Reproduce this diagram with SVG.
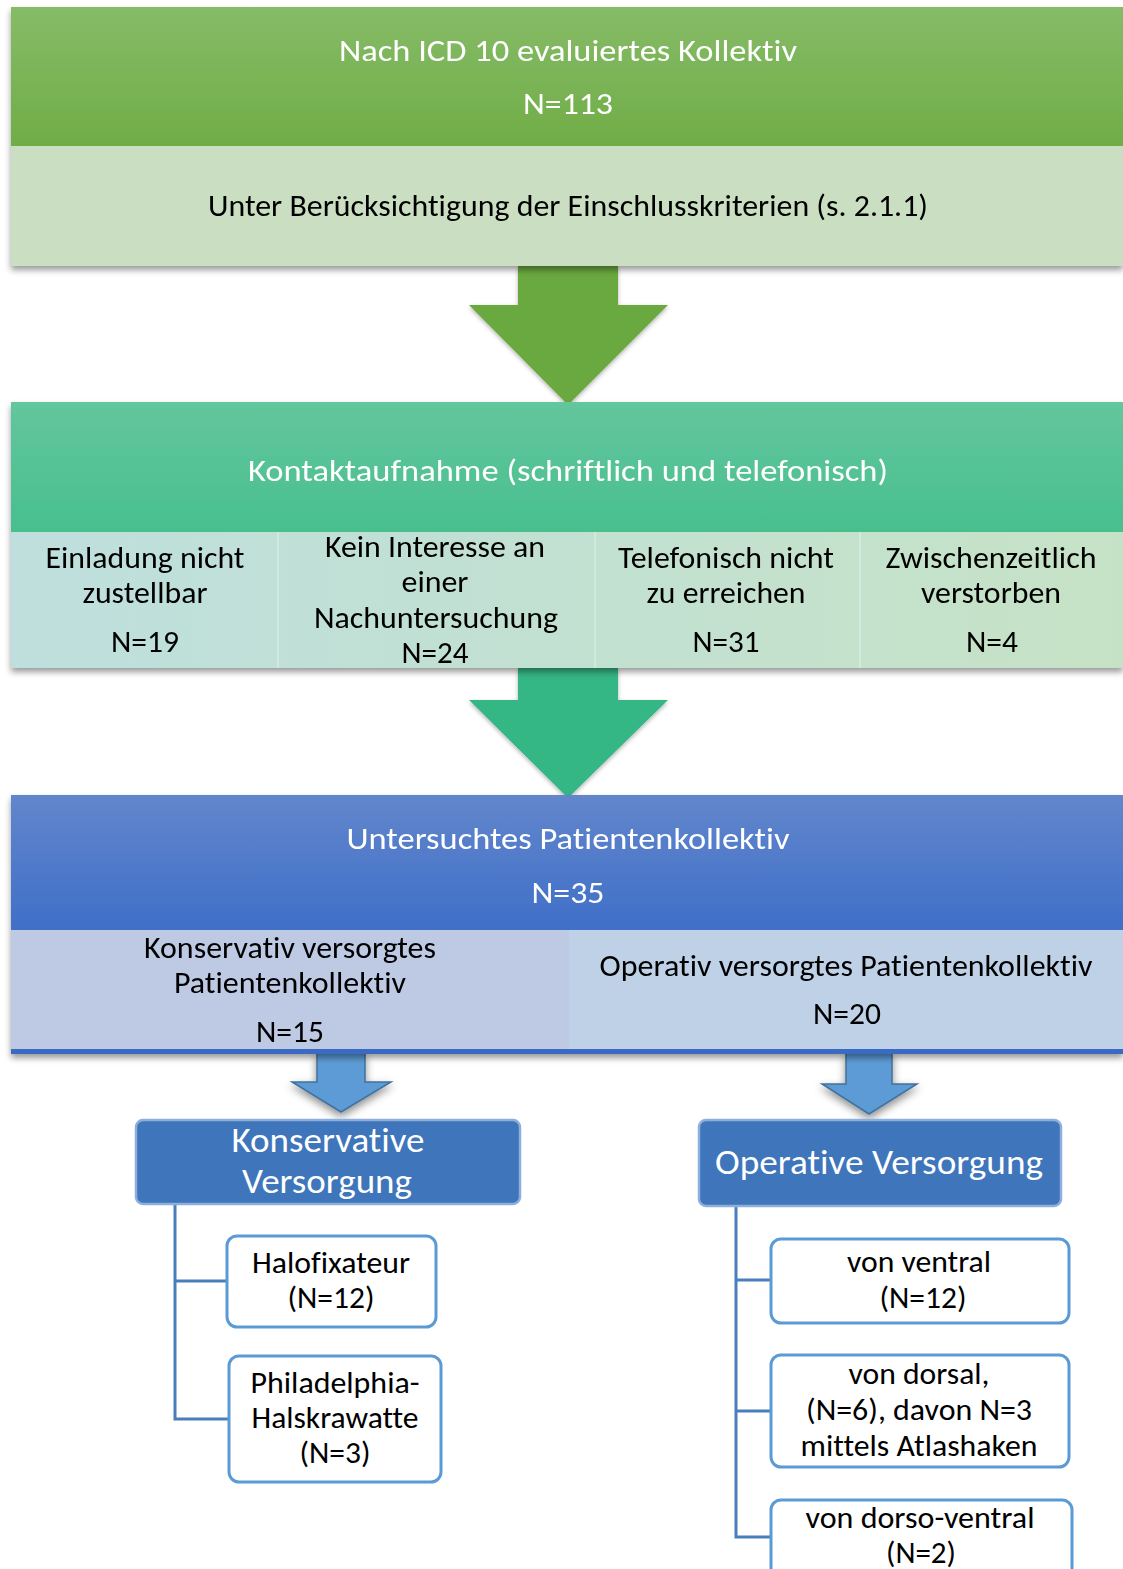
<svg xmlns="http://www.w3.org/2000/svg" width="1123" height="1569" viewBox="0 0 1123 1569">
<defs>
<linearGradient id="gGreen" x1="0" y1="0" x2="0" y2="1"><stop offset="0" stop-color="#86bb67"/><stop offset="1" stop-color="#70ad47"/></linearGradient>
<linearGradient id="gTeal" x1="0" y1="0" x2="0" y2="1"><stop offset="0" stop-color="#63c69c"/><stop offset="1" stop-color="#48bf8e"/></linearGradient>
<linearGradient id="gTealRow" x1="0" y1="0" x2="1" y2="0"><stop offset="0" stop-color="#bedfdd"/><stop offset="1" stop-color="#c6e2c6"/></linearGradient>
<linearGradient id="gBlue" x1="0" y1="0" x2="0" y2="1"><stop offset="0" stop-color="#6286cc"/><stop offset="1" stop-color="#3f6fc8"/></linearGradient>
<filter id="sh" x="-5%" y="-10%" width="115%" height="130%"><feDropShadow dx="0" dy="4" stdDeviation="3" flood-color="#000" flood-opacity="0.4"/></filter>
<filter id="shA" x="-20%" y="-20%" width="140%" height="150%"><feDropShadow dx="0" dy="4" stdDeviation="4" flood-color="#000" flood-opacity="0.45"/></filter>
<filter id="shG" x="-20%" y="-20%" width="140%" height="150%"><feDropShadow dx="0" dy="2" stdDeviation="2" flood-color="#000" flood-opacity="0.3"/></filter>
<style>
text{font-family:Carlito,Lato,"Open Sans",sans-serif;text-anchor:middle;font-variant-ligatures:none;}
.w{fill:#fff;font-size:31px;}
.b{fill:#000;font-size:30px;}
.bw{fill:#fff;font-size:35px;}
.bb{fill:#000;font-size:30px;}
.leaf{fill:#fff;stroke:#5b9bd5;stroke-width:3;}
.hdr{fill:#3e75bb;stroke:#8eaedb;stroke-width:2.5;}
.conn{fill:none;stroke:#4a7ebb;stroke-width:3;}
.sarr{fill:#5b9bd5;stroke:#41719c;stroke-width:1.5;}
</style>
</defs>

<g id="connectors">
<polygon id="arrow1" filter="url(#shG)" points="518,266 618,266 618,305 668,305 568,405 469,305 518,305" fill="#6ba83f"/>
<polygon id="arrow2" filter="url(#shG)" points="518,668 618,668 618,700 668,700 568,798 469,700 518,700" fill="#34b685"/>
<polygon id="arrow3" class="sarr" filter="url(#shA)" points="317,1053 365,1053 365,1082 391,1082 341,1112 292,1082 317,1082"/>
<polygon id="arrow4" class="sarr" filter="url(#shA)" points="846,1053 892,1053 892,1084 917,1084 869,1114 822,1084 846,1084"/>
<path class="conn" d="M175,1204 V1419 H229 M175,1281 H227"/>
<path class="conn" d="M736,1206 V1537 H771 M736,1280 H771 M736,1411 H771"/>
</g>

<g id="node-evaluiert" filter="url(#sh)">
<rect x="11" y="7" width="1112" height="139" fill="url(#gGreen)"/>
<rect x="11" y="146" width="1112" height="120" fill="#cadfc2"/>
<text class="w" x="568" y="61" textLength="458" lengthAdjust="spacingAndGlyphs">Nach ICD 10 evaluiertes Kollektiv</text>
<text class="w" x="568" y="114" textLength="90" lengthAdjust="spacingAndGlyphs">N=113</text>
<text class="b" x="568" y="216" textLength="720" lengthAdjust="spacingAndGlyphs">Unter Berücksichtigung der Einschlusskriterien (s. 2.1.1)</text>
</g>

<g id="node-kontakt" filter="url(#sh)">
<rect x="11" y="402" width="1112" height="130" fill="url(#gTeal)"/>
<rect x="11" y="532" width="1112" height="136" fill="url(#gTealRow)"/>
<path d="M278,532 V668 M595,532 V668 M860,532 V668" stroke="#d6ebe4" stroke-width="1.5"/>
<text class="w" x="568" y="481" textLength="640" lengthAdjust="spacingAndGlyphs">Kontaktaufnahme (schriftlich und telefonisch)</text>
<text class="b" x="145" y="568" textLength="199" lengthAdjust="spacingAndGlyphs">Einladung nicht</text>
<text class="b" x="145" y="603" textLength="125" lengthAdjust="spacingAndGlyphs">zustellbar</text>
<text class="b" x="145" y="652" textLength="68" lengthAdjust="spacingAndGlyphs">N=19</text>
<text class="b" x="435" y="557" textLength="220" lengthAdjust="spacingAndGlyphs">Kein Interesse an</text>
<text class="b" x="435" y="592" textLength="67" lengthAdjust="spacingAndGlyphs">einer</text>
<text class="b" x="436" y="628" textLength="244" lengthAdjust="spacingAndGlyphs">Nachuntersuchung</text>
<text class="b" x="435" y="663" textLength="67" lengthAdjust="spacingAndGlyphs">N=24</text>
<text class="b" x="726" y="568" textLength="216" lengthAdjust="spacingAndGlyphs">Telefonisch nicht</text>
<text class="b" x="726" y="603" textLength="159" lengthAdjust="spacingAndGlyphs">zu erreichen</text>
<text class="b" x="726" y="652" textLength="67" lengthAdjust="spacingAndGlyphs">N=31</text>
<text class="b" x="991" y="568" textLength="211" lengthAdjust="spacingAndGlyphs">Zwischenzeitlich</text>
<text class="b" x="991" y="603" textLength="140" lengthAdjust="spacingAndGlyphs">verstorben</text>
<text class="b" x="992" y="652" textLength="52" lengthAdjust="spacingAndGlyphs">N=4</text>
</g>

<g id="node-untersucht" filter="url(#sh)">
<rect x="11" y="795" width="1112" height="135" fill="url(#gBlue)"/>
<rect x="11" y="930" width="558" height="120" fill="#bec9e4"/>
<rect x="569" y="930" width="554" height="120" fill="#bed1e6"/>
<rect x="11" y="1049" width="1112" height="5" fill="#3a6bc4"/>
<text class="w" x="568" y="849" textLength="443" lengthAdjust="spacingAndGlyphs">Untersuchtes Patientenkollektiv</text>
<text class="w" x="568" y="903" textLength="73" lengthAdjust="spacingAndGlyphs">N=35</text>
<text class="b" x="290" y="958" textLength="292" lengthAdjust="spacingAndGlyphs">Konservativ versorgtes</text>
<text class="b" x="290" y="993" textLength="232" lengthAdjust="spacingAndGlyphs">Patientenkollektiv</text>
<text class="b" x="290" y="1042" textLength="68" lengthAdjust="spacingAndGlyphs">N=15</text>
<text class="b" x="846" y="976" textLength="493" lengthAdjust="spacingAndGlyphs">Operativ versorgtes Patientenkollektiv</text>
<text class="b" x="847" y="1024" textLength="68" lengthAdjust="spacingAndGlyphs">N=20</text>
</g>

<g id="node-konservativ">
<rect class="hdr" x="136" y="1120" width="384" height="84" rx="7"/>
<text class="bw" x="328" y="1152" textLength="193" lengthAdjust="spacingAndGlyphs">Konservative</text>
<text class="bw" x="327" y="1193" textLength="170" lengthAdjust="spacingAndGlyphs">Versorgung</text>
</g>

<g id="node-halo">
<rect class="leaf" x="227" y="1236" width="209" height="91" rx="10"/>
<text class="bb" x="331" y="1273" textLength="158" lengthAdjust="spacingAndGlyphs">Halofixateur</text>
<text class="bb" x="331" y="1308" textLength="87" lengthAdjust="spacingAndGlyphs">(N=12)</text>
</g>

<g id="node-phila">
<rect class="leaf" x="229" y="1356" width="212" height="126" rx="10"/>
<text class="bb" x="335" y="1393" textLength="169" lengthAdjust="spacingAndGlyphs">Philadelphia-</text>
<text class="bb" x="335" y="1428" textLength="167" lengthAdjust="spacingAndGlyphs">Halskrawatte</text>
<text class="bb" x="335" y="1463" textLength="71" lengthAdjust="spacingAndGlyphs">(N=3)</text>
</g>

<g id="node-operativ">
<rect class="hdr" x="699" y="1120" width="362" height="86" rx="7"/>
<text class="bw" x="879" y="1174" textLength="328" lengthAdjust="spacingAndGlyphs">Operative Versorgung</text>
</g>

<g id="node-ventral">
<rect class="leaf" x="771" y="1239" width="298" height="84" rx="10"/>
<text class="bb" x="919" y="1272" textLength="144" lengthAdjust="spacingAndGlyphs">von ventral</text>
<text class="bb" x="923" y="1308" textLength="87" lengthAdjust="spacingAndGlyphs">(N=12)</text>
</g>

<g id="node-dorsal">
<rect class="leaf" x="771" y="1355" width="298" height="112" rx="10"/>
<text class="bb" x="919" y="1384" textLength="141" lengthAdjust="spacingAndGlyphs">von dorsal,</text>
<text class="bb" x="919" y="1420" textLength="226" lengthAdjust="spacingAndGlyphs">(N=6), davon N=3</text>
<text class="bb" x="919" y="1456" textLength="237" lengthAdjust="spacingAndGlyphs">mittels Atlashaken</text>
</g>

<g id="node-dorsoventral">
<rect class="leaf" x="771" y="1500" width="301" height="90" rx="10"/>
<text class="bb" x="920" y="1528" textLength="229" lengthAdjust="spacingAndGlyphs">von dorso-ventral</text>
<text class="bb" x="921" y="1563" textLength="70" lengthAdjust="spacingAndGlyphs">(N=2)</text>
</g>
</svg>
